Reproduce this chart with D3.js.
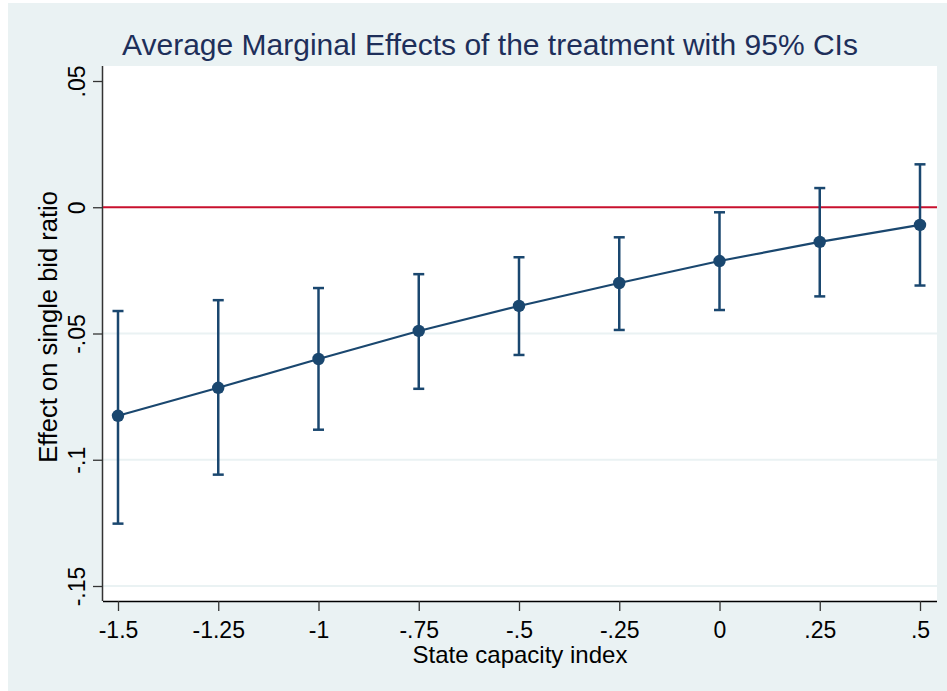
<!DOCTYPE html>
<html>
<head>
<meta charset="utf-8">
<script src="https://cdn.jsdelivr.net/npm/d3@7"></script>
<style>
  body { margin: 0; background: #ffffff; }
  text { font-family: "Liberation Sans", Arial, sans-serif; }
</style>
</head>
<body>
<div id="chart"></div>
<script>
// data
var capacity = [-1.5, -1.25, -1, -0.75, -0.5, -0.25, 0, 0.25, 0.5];
var effect   = [-0.0826, -0.0715, -0.0601, -0.0490, -0.0391, -0.0300, -0.0213, -0.0137, -0.0070];
var ciLow    = [-0.1253, -0.1059, -0.0881, -0.0719, -0.0585, -0.0486, -0.0407, -0.0353, -0.0310];
var ciHigh   = [-0.0411, -0.0368, -0.0320, -0.0265, -0.0198, -0.0119, -0.0020, 0.0076, 0.0170];
var xTicks = [-1.5, -1.25, -1, -0.75, -0.5, -0.25, 0, 0.25, 0.5];
var xTickLabels = ["-1.5", "-1.25", "-1", "-.75", "-.5", "-.25", "0", ".25", ".5"];
var yTicks = [-0.15, -0.1, -0.05, 0, 0.05];
var yTickLabels = ["-.15", "-.1", "-.05", "0", ".05"];

var width = 947;
var height = 691;
var navy = "#1a476f";

var svg = d3.select("#chart")
    .append("svg")
    .attr("width", width)
    .attr("height", height);

// graph region background
svg.append("rect")
    .attr("x", 8).attr("y", 3)
    .attr("width", width - 8).attr("height", height - 3)
    .attr("fill", "#eaf2f3");

// plot region
var plotLeft = 103, plotRight = 937, plotTop = 66, plotBottom = 601;
svg.append("rect")
    .attr("x", plotLeft).attr("y", plotTop)
    .attr("width", plotRight - plotLeft).attr("height", plotBottom - plotTop)
    .attr("fill", "#ffffff");

var xScale = d3.scaleLinear()
    .domain([-1.5, 0.5])
    .range([118, 920]);

var yScale = d3.scaleLinear()
    .domain([-0.15, 0.05])
    .range([586, 81]);

// gridlines
svg.append("g")
    .selectAll("line")
    .data([-0.15, -0.1, -0.05])
    .enter()
    .append("line")
    .attr("x1", plotLeft).attr("x2", plotRight)
    .attr("y1", function(d) { return yScale(d); })
    .attr("y2", function(d) { return yScale(d); })
    .attr("stroke", "#eaf2f3")
    .attr("stroke-width", 2);

// axes
var xAxis = d3.axisBottom(xScale)
    .tickValues(xTicks)
    .tickSize(10)
    .tickPadding(11)
    .tickFormat(function(d, i) { return xTickLabels[i]; });

var yAxis = d3.axisLeft(yScale)
    .tickValues(yTicks)
    .tickSize(10)
    .tickFormat(function(d, i) { return yTickLabels[i]; });

var gx = svg.append("g")
    .attr("transform", `translate(0, ${plotBottom})`)
    .call(xAxis);
gx.select(".domain").attr("d", `M${plotLeft},0.5H${plotRight}`).attr("stroke", "#000").attr("stroke-width", 1.5);
gx.selectAll(".tick line").attr("stroke", "#333").attr("stroke-width", 1.3);
gx.selectAll(".tick text")
    .attr("font-size", 23)
    .attr("font-family", "Liberation Sans, Arial, sans-serif")
    .attr("fill", "#000");

var gy = svg.append("g")
    .attr("transform", `translate(${plotLeft}, 0)`)
    .call(yAxis);
gy.select(".domain").attr("d", `M-0.5,${plotTop}V${plotBottom}`).attr("stroke", "#333").attr("stroke-width", 1.5);
gy.selectAll(".tick line").attr("stroke", "#333").attr("stroke-width", 1.3);
gy.selectAll(".tick text")
    .attr("font-size", 23)
    .attr("font-family", "Liberation Sans, Arial, sans-serif")
    .attr("fill", "#000")
    .attr("text-anchor", "middle")
    .attr("dy", 0)
    .attr("x", 0)
    .attr("transform", "translate(-18,0) rotate(-90)");

// zero reference line
svg.append("line")
    .attr("x1", plotLeft).attr("x2", plotRight)
    .attr("y1", yScale(0)).attr("y2", yScale(0))
    .attr("stroke", "#c8102e")
    .attr("stroke-width", 2);

var points = capacity.map(function(c, i) {
    return { x: c, y: effect[i], lo: ciLow[i], hi: ciHigh[i] };
});

// error bars
var bars = svg.append("g").selectAll("g").data(points).enter().append("g");
bars.append("line")
    .attr("x1", function(d) { return xScale(d.x); })
    .attr("x2", function(d) { return xScale(d.x); })
    .attr("y1", function(d) { return yScale(d.lo); })
    .attr("y2", function(d) { return yScale(d.hi); })
    .attr("stroke", navy).attr("stroke-width", 2.5);
bars.append("line")
    .attr("x1", function(d) { return xScale(d.x) - 5.5; })
    .attr("x2", function(d) { return xScale(d.x) + 5.5; })
    .attr("y1", function(d) { return yScale(d.lo); })
    .attr("y2", function(d) { return yScale(d.lo); })
    .attr("stroke", navy).attr("stroke-width", 2.5);
bars.append("line")
    .attr("x1", function(d) { return xScale(d.x) - 5.5; })
    .attr("x2", function(d) { return xScale(d.x) + 5.5; })
    .attr("y1", function(d) { return yScale(d.hi); })
    .attr("y2", function(d) { return yScale(d.hi); })
    .attr("stroke", navy).attr("stroke-width", 2.5);

// connecting line
var line = d3.line()
    .x(function(d) { return xScale(d.x); })
    .y(function(d) { return yScale(d.y); });
svg.append("path")
    .datum(points)
    .attr("d", line)
    .attr("fill", "none")
    .attr("stroke", navy)
    .attr("stroke-width", 2.2);

// markers
svg.append("g").selectAll("circle").data(points).enter()
    .append("circle")
    .attr("cx", function(d) { return xScale(d.x); })
    .attr("cy", function(d) { return yScale(d.y); })
    .attr("r", 6.2)
    .attr("fill", navy);

// titles
svg.append("text")
    .attr("x", 490).attr("y", 55)
    .attr("text-anchor", "middle")
    .attr("font-size", 30)
    .attr("fill", "#1e2f5a")
    .text("Average Marginal Effects of the treatment with 95% CIs");

svg.append("text")
    .attr("x", 520).attr("y", 663)
    .attr("text-anchor", "middle")
    .attr("font-size", 24)
    .attr("fill", "#000")
    .text("State capacity index");

svg.append("text")
    .attr("transform", "translate(57, 327) rotate(-90)")
    .attr("text-anchor", "middle")
    .attr("font-size", 25.5)
    .attr("fill", "#000")
    .text("Effect on single bid ratio");
</script>
</body>
</html>
